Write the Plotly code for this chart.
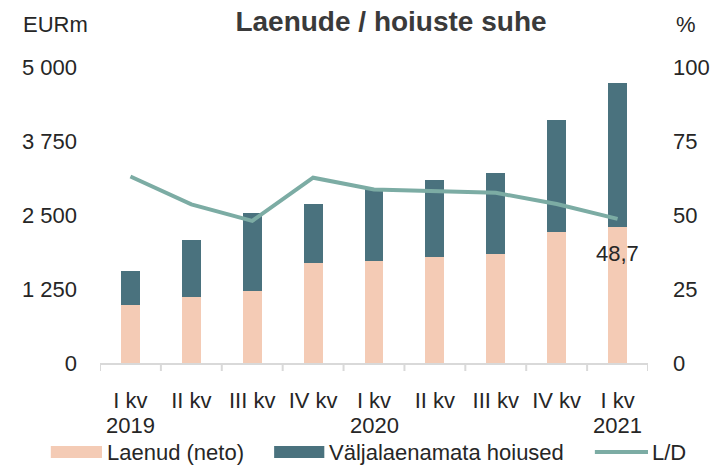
import plotly.graph_objects as go

# ---- data ----
quarters = ["I kv", "II kv", "III kv", "IV kv", "I kv", "II kv", "III kv", "IV kv", "I kv"]
years = ["2019", "", "", "", "2020", "", "", "", "2021"]
loans = [977, 1107, 1213, 1685, 1730, 1792, 1848, 2208, 2298]           # Laenud (neto)
deposits_free = [579, 966, 1315, 1006, 1231, 1292, 1366, 1904, 2432]    # Väljalaenamata hoiused
ld_ratio = [63.0, 53.6, 48.0, 62.6, 58.6, 58.2, 57.5, 53.7, 48.7]       # L/D, %
left_ticks = [0, 1250, 2500, 3750, 5000]
left_tick_text = ["0", "1 250", "2 500", "3 750", "5 000"]
right_ticks = [0, 25, 50, 75, 100]

cats = list(range(len(quarters)))

PINK = "#F4CBB5"
NAVY = "#4A727E"
TEAL = "#7CACA4"
TXT = "#262626"
FONT = "Liberation Sans"
FS = 22

W, H = 722, 469
L, R, T, B = 100, 65, 67, 106
PW, PH = W - L - R, H - T - B


def px(xp):
    return (xp - L) / PW


def py(yp):
    return (H - B - yp) / PH


fig = go.Figure()
fig.add_bar(x=cats, y=loans, name="Laenud (neto)", marker=dict(color=PINK, line=dict(width=0)),
            showlegend=False, hoverinfo="y")
fig.add_bar(x=cats, y=deposits_free, name="Väljalaenamata hoiused",
            marker=dict(color=NAVY, line=dict(width=0)), showlegend=False, hoverinfo="y")
fig.add_scatter(x=cats, y=ld_ratio, name="L/D", mode="lines", yaxis="y2",
                line=dict(color=TEAL, width=4), showlegend=False)

annotations = []
# year labels under the quarter labels
for c, yr in zip(cats, years):
    if yr:
        annotations.append(dict(x=c, y=py(426), xref="x", yref="paper", text=yr, showarrow=False,
                                xanchor="center", yanchor="middle", font=dict(size=FS, color=TXT, family=FONT)))
# value label for the last L/D point
annotations.append(dict(x=cats[-1], y=ld_ratio[-1], xref="x", yref="y2",
                        text=f"{ld_ratio[-1]:.1f}".replace(".", ","), showarrow=False,
                        xanchor="center", yanchor="middle", yshift=-35,
                        font=dict(size=FS, color=TXT, family=FONT)))
# axis unit labels
annotations.append(dict(x=px(55), y=py(24), xref="paper", yref="paper", text="EURm", showarrow=False,
                        xanchor="center", yanchor="middle", font=dict(size=FS, color=TXT, family=FONT)))
annotations.append(dict(x=px(696), y=py(24), xref="paper", yref="paper", text="%", showarrow=False,
                        xanchor="center", yanchor="middle", font=dict(size=FS, color=TXT, family=FONT)))

# legend (drawn manually to match wide swatches)
legend_items = [
    ("rect", PINK, 50, 102, "Laenud (neto)", 105),
    ("rect", NAVY, 277, 328, "Väljalaenamata hoiused", 331),
    ("line", TEAL, 603, 657, "L/D", 659),
]
shapes = []
LEG_Y = 452
for kind, col, x0, x1, label, tx in legend_items:
    if kind == "rect":
        shapes.append(dict(type="rect", xref="paper", yref="paper", x0=px(x0), x1=px(x1),
                           y0=py(LEG_Y + 6), y1=py(LEG_Y - 6), fillcolor=col, line=dict(width=0)))
    else:
        shapes.append(dict(type="line", xref="paper", yref="paper", x0=px(x0), x1=px(x1),
                           y0=py(LEG_Y), y1=py(LEG_Y), line=dict(color=col, width=4)))
    annotations.append(dict(x=px(tx), y=py(LEG_Y), xref="paper", yref="paper", text=label, showarrow=False,
                            xanchor="left", yanchor="middle", font=dict(size=FS, color=TXT, family=FONT)))

fig.update_layout(
    width=W, height=H,
    margin=dict(l=L, r=R, t=T, b=B, pad=0),
    paper_bgcolor="white", plot_bgcolor="white",
    barmode="stack", bargap=0.69,
    font=dict(family=FONT, size=FS, color=TXT),
    title=dict(text="<b>Laenude / hoiuste suhe</b>", x=391 / W, xanchor="center",
               y=1 - 21 / H, yanchor="middle", font=dict(size=28, color="#3a3a3a", family=FONT)),
    xaxis=dict(type="linear", range=[-0.5, len(cats) - 0.5], tickmode="array",
               tickvals=cats, ticktext=quarters, showgrid=False, zeroline=False,
               showline=True, linecolor="#D9D9D9", linewidth=2, ticks="", ticklabelstandoff=17,
               tickfont=dict(size=FS, color=TXT, family=FONT)),
    yaxis=dict(range=[0, 5000], tickmode="array", tickvals=left_ticks, ticktext=left_tick_text,
               showgrid=False, zeroline=False, showline=False, ticks="", ticklabelstandoff=22,
               tickfont=dict(size=FS, color=TXT, family=FONT)),
    yaxis2=dict(range=[0, 100], overlaying="y", side="right", tickmode="array", tickvals=right_ticks,
                showgrid=False, zeroline=False, showline=False, ticks="", ticklabelstandoff=24,
                tickfont=dict(size=FS, color=TXT, family=FONT)),
    annotations=annotations,
    shapes=shapes,
)

# category boundary tick marks on the x axis
for b in [c - 0.5 for c in cats] + [cats[-1] + 0.5]:
    fig.add_shape(type="line", xref="x", yref="paper", x0=b, x1=b, y0=0, y1=-8 / PH,
                  line=dict(color="#D9D9D9", width=2))

fig.write_html("out.html", config={"displayModeBar": False},
               post_script="document.body.style.margin='0';document.body.style.overflow='hidden';")
